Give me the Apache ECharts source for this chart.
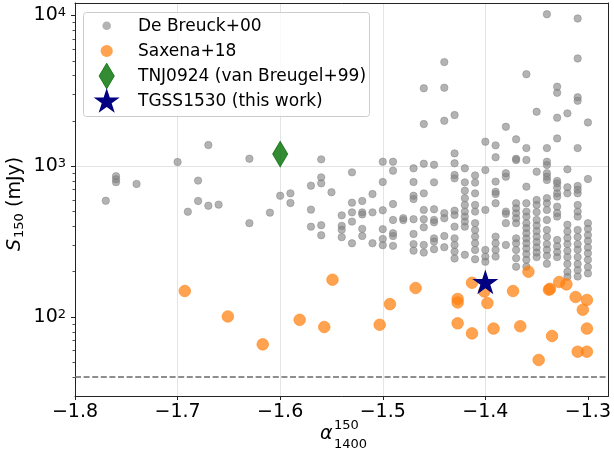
<!DOCTYPE html>
<html><head><meta charset="utf-8">
<script src="https://cdn.jsdelivr.net/npm/echarts@6/dist/echarts.min.js"></script>
<style>html,body{margin:0;padding:0;background:#fff}#c{width:614px;height:456px}</style>
</head><body><div id="c"></div>
<script>
const FONT = 'DejaVu Sans';
// ticks
const xTicks = [-1.8, -1.7, -1.6, -1.5, -1.4, -1.3];
const yTicks = [100, 1000, 10000];
const yMinorTicks = [40, 50, 60, 70, 80, 90, 200, 300, 400, 500, 600, 700, 800, 900, 2000, 3000, 4000, 5000, 6000, 7000, 8000, 9000];
const fluxLimit = 40;
// De Breuck+00 (alpha columns, fluxes per column)
const deBreuckAlpha = [-1.77, -1.76, -1.74, -1.70, -1.69, -1.68, -1.67, -1.66, -1.63, -1.61, -1.60, -1.59, -1.57, -1.56, -1.55, -1.54, -1.53, -1.52, -1.51, -1.50, -1.49, -1.48, -1.47, -1.46, -1.45, -1.44, -1.43, -1.42, -1.41, -1.40, -1.39, -1.38, -1.37, -1.36, -1.35, -1.34, -1.33, -1.32, -1.31, -1.30];
const deBreuckFlux = [
  [591], [860, 820, 785], [764], [1067], [500], [804, 589], [1383, 548], [557], [1123, 420], [493], [638], [662, 571],
  [744, 516, 398], [1112, 845, 771, 407, 349], [673], [473, 403, 380, 339], [912, 574, 495, 430, 309],
  [589, 495, 480, 385, 345], [655, 495, 309], [1072, 787, 511, 383, 330, 300], [1072, 935, 562, 441, 360, 345, 297],
  [453, 440], [970, 787, 638, 607, 446, 356, 305, 276], [3290, 1906, 1040, 662, 514, 446, 394, 301, 268],
  [1023, 783, 519, 441, 425, 333, 317, 282], [4910, 3320, 2005, 489, 453, 345, 291],
  [2187, 1218, 1047, 876, 832, 508, 476, 398, 333, 301, 272, 245],
  [970, 783, 689, 614, 554, 501, 464, 430, 398, 259],
  [870, 780, 662, 554, 501, 420, 378, 342, 309, 279, 242],
  [1455, 944, 514, 279, 252, 233],
  [1377, 1148, 792, 678, 655, 569, 342, 309, 279, 252],
  [1828, 900, 853, 501, 484, 420, 301],
  [1510, 1122, 1100, 569, 527, 489, 453, 420, 333, 309, 279, 246, 216],
  [4080, 1321, 1101, 733, 569, 501, 464, 420, 390, 360, 333, 309, 285, 262, 240, 216],
  [2300, 921, 598, 555, 497, 441, 405, 372, 342, 315, 290, 268, 250],
  [10200, 1321, 1072, 1021, 900, 853, 811, 615, 569, 514, 441, 378, 340, 305, 280, 255, 226],
  [3370, 3070, 2100, 1531, 800, 771, 720, 662, 630, 540, 490, 464, 325, 295, 270, 250],
  [2245, 955, 726, 662, 410, 370, 335, 305, 275, 250, 225, 200, 185],
  [9550, 5190, 2870, 2720, 1321, 741, 700, 662, 554, 501, 464, 378, 340, 305, 280, 250, 225, 205, 186],
  [1954, 824, 420, 385, 350, 320, 290, 265, 240, 215, 195]
];
// Saxena+18
const saxenaAlpha = [-1.693, -1.651, -1.617, -1.581, -1.557, -1.549, -1.503, -1.493, -1.468, -1.427, -1.427, -1.427, -1.413, -1.413, -1.401, -1.398, -1.392, -1.373, -1.366, -1.358, -1.348, -1.338, -1.337, -1.335, -1.328, -1.321, -1.312, -1.310, -1.305, -1.301, -1.301, -1.301];
const saxenaFlux = [149, 101, 66, 96, 86, 177, 89, 122, 156, 132, 125, 91, 78, 169, 148, 124, 84, 149, 87, 200, 52, 152, 154, 75, 171, 165, 136, 59, 112, 130, 84, 59];
// TNJ0924 and TGSS1530
const tnjAlpha = [-1.60];
const tnjFlux = [1205];
const tgssAlpha = [-1.40];
const tgssFlux = [168];
const legendLabels = ['De Breuck+00', 'Saxena+18', 'TNJ0924 (van Breugel+99)', 'TGSS1530 (this work)'];

const grayData = [];
deBreuckAlpha.forEach((a, i) => deBreuckFlux[i].forEach(s => grayData.push([a, s])));
const orangeData = saxenaAlpha.map((a, i) => [a, saxenaFlux[i]]);
const tnjData = tnjAlpha.map((a, i) => [a, tnjFlux[i]]);
const tgssData = tgssAlpha.map((a, i) => [a, tgssFlux[i]]);

const GRAY = 'rgba(128,128,128,0.6)';
const ORANGE = 'rgba(255,127,14,0.72)';
const GREEN = 'rgba(0,110,0,0.8)';
const NAVY = '#000080';

function starPts(cx, cy, R) {
  const p = [];
  for (let i = 0; i < 10; i++) {
    const ang = -Math.PI / 2 + i * Math.PI / 5;
    const r = i % 2 ? R * 0.381966 : R;
    p.push([cx + r * Math.cos(ang), cy + r * Math.sin(ang)]);
  }
  return p;
}
const starPath = 'path://' + starPts(0, 0, 100).map((q, i) => (i ? 'L' : 'M') + q[0].toFixed(2) + ' ' + q[1].toFixed(2)).join(' ') + ' Z';

const lx = 106.7, rows = [25.7, 51, 76, 100.5];
const gz = 100;
const graphic = [
  { type: 'rect', z: gz, shape: { x: 83.5, y: 12.5, width: 286, height: 104, r: 3 }, style: { fill: 'rgba(255,255,255,0.8)', stroke: '#cccccc', lineWidth: 1 } },
  { type: 'circle', z: gz, shape: { cx: lx, cy: rows[0], r: 4.3 }, style: { fill: GRAY } },
  { type: 'circle', z: gz, shape: { cx: lx, cy: rows[1], r: 6.1 }, style: { fill: ORANGE } },
  { type: 'polygon', z: gz, shape: { points: [[lx, rows[2] - 12.8], [lx + 7.6, rows[2]], [lx, rows[2] + 12.8], [lx - 7.6, rows[2]]] }, style: { fill: GREEN, stroke: GREEN, lineWidth: 1 } },
  { type: 'polygon', z: gz, shape: { points: starPts(lx, rows[3] + 1.2, 13.7) }, style: { fill: NAVY } }
];
legendLabels.forEach((t, i) => graphic.push({ type: 'text', z: gz, x: 138, y: rows[i] + 0.8, style: { text: t, font: '17px "DejaVu Sans"', fill: '#000', align: 'left', verticalAlign: 'middle' } }));
// x-axis title
graphic.push({ type: 'text', z: gz, x: 320, y: 434, style: { text: 'α', font: 'italic 19px "DejaVu Sans"', fill: '#000', align: 'left', verticalAlign: 'middle' } });
graphic.push({ type: 'text', z: gz, x: 334, y: 425.5, style: { text: '150', font: '13px "DejaVu Sans"', fill: '#000', align: 'left', verticalAlign: 'middle' } });
graphic.push({ type: 'text', z: gz, x: 334, y: 444.5, style: { text: '1400', font: '13px "DejaVu Sans"', fill: '#000', align: 'left', verticalAlign: 'middle' } });
// y-axis title (rotated)
graphic.push({ type: 'group', x: 15, y: 251, rotation: Math.PI / 2, children: [
  { type: 'text', z: gz, x: 0, y: 0, style: { text: 'S', font: 'italic 19px "DejaVu Sans"', fill: '#000', align: 'left', verticalAlign: 'middle' } },
  { type: 'text', z: gz, x: 13, y: 5, style: { text: '150', font: '13px "DejaVu Sans"', fill: '#000', align: 'left', verticalAlign: 'middle' } },
  { type: 'text', z: gz, x: 44, y: 0, style: { text: '(mJy)', font: '19px "DejaVu Sans"', fill: '#000', align: 'left', verticalAlign: 'middle' } }
] });

const AX = '#222';
const option = {
  animation: false,
  textStyle: { fontFamily: FONT },
  grid: { left: 75, top: 3, width: 537, height: 393, containLabel: false },
  xAxis: [
    { type: 'value', min: -1.8, max: -1.28, interval: 0.1, position: 'bottom',
      axisLine: { show: true, onZero: false, lineStyle: { color: AX, width: 1 } },
      axisTick: { show: true, length: 4, customValues: xTicks, lineStyle: { color: AX, width: 1 } },
      axisLabel: { customValues: xTicks, margin: 7, color: '#000', fontSize: 19, fontFamily: FONT,
        formatter: v => v.toFixed(1).replace('-', '\u2212') },
      splitLine: { show: true, showMinLine: false, showMaxLine: false, lineStyle: { color: '#e4e4e4', width: 1 } } },
    { type: 'value', min: -1.8, max: -1.28, position: 'top', z: 5,
      axisLine: { show: true, onZero: false, lineStyle: { color: AX, width: 1 } },
      axisTick: { show: false }, axisLabel: { show: false }, splitLine: { show: false } }
  ],
  yAxis: [
    { type: 'log', logBase: 10, min: 30, max: 12100, position: 'left',
      axisLine: { show: true, onZero: false, lineStyle: { color: AX, width: 1 } },
      axisTick: { show: true, length: 4, customValues: yTicks, lineStyle: { color: AX, width: 1 } },
      axisLabel: { customValues: yTicks, margin: 9, color: '#000', fontSize: 19, fontFamily: FONT,
        formatter: v => '10{sup|' + Math.round(Math.log10(v)) + '}',
        rich: { sup: { fontSize: 13, fontFamily: FONT, color: '#000', verticalAlign: 'top', lineHeight: 11 } } },
      splitLine: { show: true, showMinLine: false, showMaxLine: false, lineStyle: { color: '#e4e4e4', width: 1 } } },
    { type: 'log', logBase: 10, min: 30, max: 12100, position: 'left',
      axisLine: { show: false },
      axisTick: { show: true, length: 2.5, customValues: yMinorTicks, lineStyle: { color: AX, width: 0.8 } },
      axisLabel: { show: false }, splitLine: { show: false } },
    { type: 'value', min: 0, max: 1, position: 'right', z: 5,
      axisLine: { show: true, onZero: false, lineStyle: { color: AX, width: 1 } },
      axisTick: { show: false }, axisLabel: { show: false }, splitLine: { show: false } }
  ],
  graphic: graphic,
  series: [
    { type: 'scatter', name: legendLabels[0], xAxisIndex: 0, yAxisIndex: 0, data: grayData, symbol: 'circle', symbolSize: 7.4,
      itemStyle: { color: GRAY, borderColor: GRAY, borderWidth: 0.8, opacity: 1 }, silent: true, emphasis: { disabled: true },
      markLine: { silent: true, symbol: 'none', animation: false, label: { show: false },
        lineStyle: { color: '#6a6a6a', width: 1.6, type: [6, 2.6] }, data: [{ yAxis: fluxLimit }] } },
    { type: 'scatter', name: legendLabels[1], data: orangeData, symbol: 'circle', symbolSize: 11.6,
      itemStyle: { color: ORANGE, borderColor: ORANGE, borderWidth: 0.8, opacity: 1 }, silent: true, emphasis: { disabled: true } },
    { type: 'scatter', name: legendLabels[2], data: tnjData, symbol: 'diamond', symbolSize: [15, 25.5],
      itemStyle: { color: GREEN, borderColor: GREEN, borderWidth: 1, opacity: 1 }, silent: true, emphasis: { disabled: true } },
    { type: 'scatter', name: legendLabels[3], data: tgssData, symbol: starPath, symbolSize: [26, 24.7], symbolKeepAspect: false,
      symbolOffset: [0, -1.3], itemStyle: { color: NAVY, opacity: 1 }, silent: true, emphasis: { disabled: true } }
  ]
};
const chart = echarts.init(document.getElementById('c'), null, { renderer: 'canvas' });
chart.setOption(option);
</script></body></html>
